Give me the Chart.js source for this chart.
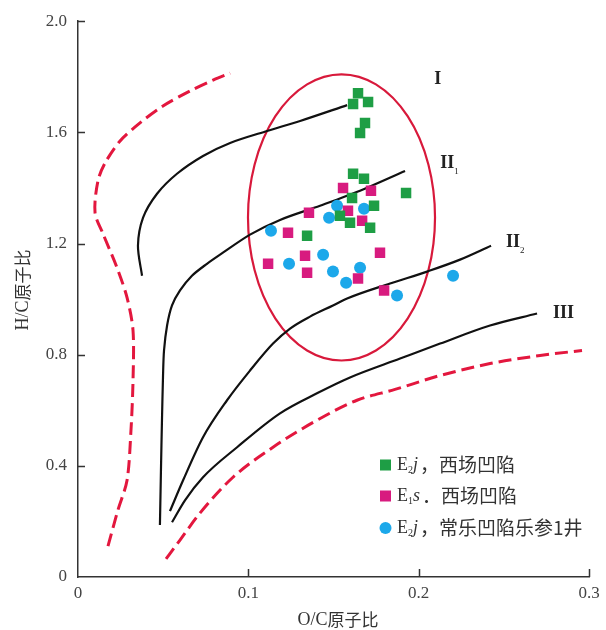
<!DOCTYPE html>
<html>
<head>
<meta charset="utf-8">
<script src="https://cdn.jsdelivr.net/npm/chart.js@4.4.0/dist/chart.umd.min.js"></script>
<style>
  html, body { margin: 0; padding: 0; background: #fff; }
</style>
</head>
<body>
<canvas id="vk" width="606" height="630"></canvas>
<script>
// axis ticks
let xTicks = [0, 0.1, 0.2, 0.3];
let xTickLabels = ['0', '0.1', '0.2', '0.3'];
let yTicks = [0, 0.4, 0.8, 1.2, 1.6, 2.0];
let yTickLabels = ['0', '0.4', '0.8', '1.2', '1.6', '2.0'];

// samples, [O/C, H/C]
let xichangE2j = [
    [0.1644, 1.741], [0.1703, 1.709], [0.1615, 1.702], [0.1685, 1.634], [0.1656, 1.598],
    [0.1615, 1.451], [0.1679, 1.433], [0.1609, 1.364], [0.1926, 1.382], [0.1738, 1.336],
    [0.1538, 1.300], [0.1597, 1.275], [0.1715, 1.257], [0.1345, 1.228]
];
let xichangE1s = [
    [0.1556, 1.400], [0.1720, 1.390], [0.1356, 1.311], [0.1585, 1.318], [0.1668, 1.282],
    [0.1233, 1.239], [0.1116, 1.127], [0.1333, 1.156], [0.1345, 1.095], [0.1773, 1.167],
    [0.1644, 1.074], [0.1797, 1.031]
];
let changleE2j = [
    [0.1133, 1.246], [0.1521, 1.336], [0.1679, 1.325], [0.1474, 1.293], [0.1439, 1.160],
    [0.1239, 1.127], [0.1497, 1.099], [0.1656, 1.113], [0.1574, 1.059], [0.1873, 1.013],
    [0.2202, 1.084]
];

// kerogen type boundaries
let curveI = [
    [0.0376, 1.084], [0.0352, 1.192], [0.0382, 1.293], [0.0464, 1.379], [0.0581, 1.451],
    [0.0734, 1.515], [0.0893, 1.562], [0.1110, 1.605], [0.1304, 1.641], [0.1580, 1.698]
];
let curveII1 = [
    [0.0481, 0.187], [0.0487, 0.384], [0.0493, 0.564], [0.0499, 0.720], [0.0505, 0.815],
    [0.0523, 0.905], [0.0552, 0.977], [0.0599, 1.031], [0.0669, 1.084], [0.0757, 1.127],
    [0.0834, 1.160], [0.1010, 1.232], [0.1186, 1.285], [0.1421, 1.336], [0.1656, 1.390],
    [0.1920, 1.461]
];
let curveII2 = [
    [0.0540, 0.237], [0.0617, 0.348], [0.0734, 0.503], [0.0875, 0.636], [0.1010, 0.743],
    [0.1145, 0.840], [0.1245, 0.894], [0.1362, 0.937], [0.1497, 0.977], [0.1580, 1.002],
    [0.1832, 1.056], [0.2049, 1.099], [0.2243, 1.142], [0.2425, 1.192]
];
let curveIII = [
    [0.0552, 0.197], [0.0628, 0.276], [0.0734, 0.359], [0.0934, 0.467], [0.1186, 0.589],
    [0.1403, 0.661], [0.1597, 0.718], [0.1891, 0.786], [0.2126, 0.840], [0.2419, 0.905],
    [0.2695, 0.948]
];
let limitLeft = [
    [0.0176, 0.111], [0.0235, 0.242], [0.0288, 0.348], [0.0311, 0.528], [0.0323, 0.707],
    [0.0323, 0.887], [0.0288, 1.005], [0.0229, 1.113], [0.0147, 1.235], [0.0100, 1.311],
    [0.0117, 1.425], [0.0159, 1.490], [0.0247, 1.569], [0.0364, 1.634], [0.0499, 1.695],
    [0.0658, 1.749], [0.0793, 1.788], [0.0893, 1.813]
];
let limitRight = [
    [0.0517, 0.065], [0.0599, 0.133], [0.0716, 0.230], [0.0910, 0.359], [0.1145, 0.467],
    [0.1403, 0.564], [0.1638, 0.636], [0.1861, 0.675], [0.2126, 0.725], [0.2419, 0.768],
    [0.2713, 0.797], [0.2959, 0.815]
];

// circled sample group: centre x, centre y, half width, half height (data units)
let ellipse = [0.1547, 1.294, 0.0549, 0.515];

// roman type labels at data positions
let typeLabels = [
    { text: 'I',   sub: '',  x: 0.2092, y: 1.792 },
    { text: 'II',  sub: '1', x: 0.2126, y: 1.487 },
    { text: 'II',  sub: '2', x: 0.2513, y: 1.203 },
    { text: 'III', sub: '',  x: 0.2789, y: 0.948 }
];

const serif = "'Liberation Serif', 'DejaVu Serif', serif";
const cjk = "'Noto Sans CJK SC', sans-serif";
const green = '#1e9e45';
const magenta = '#d81b7f';
const cyan = '#1ca8ea';
const red = '#e3173e';

function toXY(arr) {
    return arr.map(p => ({ x: p[0], y: p[1] }));
}

// smooth: true -> monotone spline (x keeps increasing), else bezier tension
function curve(data, color, width, dash, smooth) {
    let ds = {
        data: toXY(data),
        showLine: true,
        borderColor: color,
        borderWidth: width,
        borderDash: dash || [],
        pointRadius: 0,
        fill: false,
        order: 2
    };
    if (smooth) ds.cubicInterpolationMode = 'monotone';
    else ds.tension = 0.3;
    return ds;
}

// draw a run of text pieces (font / vertical shift), left to right
function drawParts(ctx, parts, x, y, align) {
    let total = 0;
    parts.forEach(p => { ctx.font = p.f; total += ctx.measureText(p.t).width + (p.gap || 0); });
    let cx = align === 'center' ? x - total / 2 : x;
    ctx.textBaseline = 'middle';
    ctx.textAlign = 'left';
    parts.forEach(p => {
        ctx.font = p.f;
        ctx.fillText(p.t, cx, y + (p.dy || 0));
        cx += ctx.measureText(p.t).width + (p.gap || 0);
    });
}

const decor = {
    id: 'decor',
    beforeDatasetsDraw(chart) {
        const { ctx, scales: { x, y } } = chart;
        const cx = x.getPixelForValue(ellipse[0]);
        const cy = y.getPixelForValue(ellipse[1]);
        const rx = x.getPixelForValue(ellipse[0] + ellipse[2]) - cx;
        const ry = cy - y.getPixelForValue(ellipse[1] + ellipse[3]);
        ctx.save();
        ctx.strokeStyle = '#d8193b';
        ctx.lineWidth = 2.2;
        ctx.beginPath();
        ctx.ellipse(cx, cy, rx, ry, 0, 0, Math.PI * 2);
        ctx.stroke();
        ctx.restore();
    },
    afterDraw(chart) {
        const { ctx, chartArea: a, scales: { x, y } } = chart;
        ctx.save();
        // inward tick marks
        ctx.strokeStyle = '#333';
        ctx.lineWidth = 1.5;
        ctx.beginPath();
        xTicks.forEach(v => {
            if (v === 0) return;
            const px = Math.round(x.getPixelForValue(v)) + 0.5;
            ctx.moveTo(px, a.bottom);
            ctx.lineTo(px, a.bottom - 8);
        });
        yTicks.forEach(v => {
            if (v === 0) return;
            const py = Math.round(y.getPixelForValue(v)) + 0.5;
            ctx.moveTo(a.left, py);
            ctx.lineTo(a.left + 7, py);
        });
        ctx.stroke();

        // type labels
        ctx.fillStyle = '#222';
        typeLabels.forEach(l => {
            const px = x.getPixelForValue(l.x);
            const py = y.getPixelForValue(l.y);
            const parts = [{ t: l.text, f: 'bold 18px ' + serif }];
            if (l.sub) parts.push({ t: l.sub, f: '9px ' + serif, dy: 8, gap: 0 });
            drawParts(ctx, parts, px, py, 'left');
        });

        // axis titles
        ctx.fillStyle = '#333';
        drawParts(ctx, [
            { t: 'O/C', f: '18px ' + serif },
            { t: '原子比', f: '17px ' + cjk }
        ], 338, 620, 'center');
        ctx.save();
        ctx.translate(23, 290);
        ctx.rotate(-Math.PI / 2);
        drawParts(ctx, [
            { t: 'H/C', f: '18px ' + serif },
            { t: '原子比', f: '17px ' + cjk }
        ], 0, 0, 'center');
        ctx.restore();

        // legend
        const rows = [
            { kind: 'rect', color: green, y: 465,
              parts: [{ t: 'E', f: '18px ' + serif }, { t: '2', f: '10px ' + serif, dy: 5 },
                      { t: 'j', f: 'italic 18px ' + serif, gap: 2 }, { t: '，西场凹陷', f: '19px ' + cjk }] },
            { kind: 'rect', color: magenta, y: 496,
              parts: [{ t: 'E', f: '18px ' + serif }, { t: '1', f: '10px ' + serif, dy: 5 },
                      { t: 's', f: 'italic 18px ' + serif, gap: 2 }, { t: '．西场凹陷', f: '19px ' + cjk }] },
            { kind: 'circle', color: cyan, y: 528,
              parts: [{ t: 'E', f: '18px ' + serif }, { t: '2', f: '10px ' + serif, dy: 5 },
                      { t: 'j', f: 'italic 18px ' + serif, gap: 2 }, { t: '，常乐凹陷乐参1井', f: '19px ' + cjk }] }
        ];
        rows.forEach(r => {
            ctx.fillStyle = r.color;
            if (r.kind === 'rect') {
                ctx.fillRect(380, r.y - 5.5, 11, 11);
            } else {
                ctx.beginPath();
                ctx.arc(385.5, r.y, 6, 0, Math.PI * 2);
                ctx.fill();
            }
            ctx.fillStyle = '#333';
            drawParts(ctx, r.parts, 397, r.y, 'left');
        });
        ctx.restore();
    }
};

const ctx = document.getElementById('vk').getContext('2d');
new Chart(ctx, {
    type: 'scatter',
    data: {
        datasets: [
            { data: toXY(xichangE2j), pointStyle: 'rect', pointRadius: 7.4, backgroundColor: green, borderWidth: 0, order: 1 },
            { data: toXY(xichangE1s), pointStyle: 'rect', pointRadius: 7.4, backgroundColor: magenta, borderWidth: 0, order: 1 },
            { data: toXY(changleE2j), pointStyle: 'circle', pointRadius: 6, backgroundColor: cyan, borderWidth: 0, order: 1 },
            curve(curveI, '#111', 2.2),
            curve(curveII1, '#111', 2.2),
            curve(curveII2, '#111', 2.2, null, true),
            curve(curveIII, '#111', 2.2, null, true),
            curve(limitLeft, red, 3, [13, 6]),
            curve(limitRight, red, 3, [13, 6], true)
        ]
    },
    options: {
        responsive: false,
        animation: false,
        layout: { padding: { left: 0, top: 20, right: 17, bottom: 0 } },
        plugins: { legend: { display: false }, tooltip: { enabled: false } },
        events: [],
        scales: {
            x: {
                type: 'linear',
                min: 0, max: 0.3,
                afterBuildTicks: s => { s.ticks = xTicks.map(v => ({ value: v })); },
                afterFit: s => { s.height = 53; },
                grid: { display: false, drawTicks: false },
                border: { display: true, color: '#333', width: 1.5 },
                ticks: {
                    padding: 6,
                    color: '#444',
                    font: { family: serif, size: 17 },
                    maxRotation: 0,
                    callback: (v, i) => xTickLabels[i]
                }
            },
            y: {
                type: 'linear',
                min: 0, max: 2.0,
                afterBuildTicks: s => { s.ticks = yTicks.map(v => ({ value: v })); },
                afterFit: s => { s.width = 78; },
                grid: { display: false, drawTicks: false },
                border: { display: true, color: '#333', width: 1.5 },
                ticks: {
                    padding: 11,
                    color: '#444',
                    font: { family: serif, size: 17 },
                    callback: (v, i) => yTickLabels[i]
                }
            }
        }
    },
    plugins: [decor]
});
</script>
</body>
</html>
